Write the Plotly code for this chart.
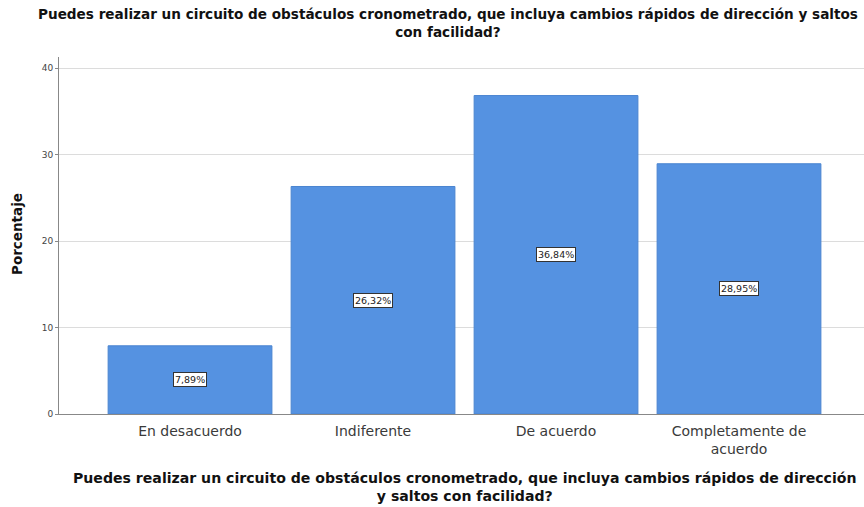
import plotly.graph_objects as go

categories = ["En desacuerdo", "Indiferente", "De acuerdo", "Completamente de<br>acuerdo"]
values = [7.89, 26.32, 36.84, 28.95]
labels = ["7,89%", "26,32%", "36,84%", "28,95%"]
title_text = ("Puedes realizar un circuito de obstáculos cronometrado, que incluya cambios rápidos de dirección y saltos"
              "<br>con facilidad?")
xtitle_text = ("Puedes realizar un circuito de obstáculos cronometrado, que incluya cambios rápidos de dirección"
               "<br>y saltos con facilidad?")
ytitle = "Porcentaje"

FONT = "DejaVu Sans, Verdana, sans-serif"
L, T, B, W, H = 59, 57, 93, 864, 507
PW, PH = W - L, H - T - B


def px_x(p):
    return (p - L) / PW


def px_y(p):
    return (H - B - p) / PH


xs = list(range(len(categories)))

fig = go.Figure()
fig.add_trace(go.Bar(
    x=xs, y=values,
    marker=dict(color="#5592E1", line=dict(color="#4A84D0", width=1)),
    width=0.895,
    hoverinfo="skip",
))

for x, v, t in zip(xs, values, labels):
    fig.add_annotation(
        x=x, y=v / 2, text=t, showarrow=False,
        font=dict(family=FONT, size=9.5, color="#222"),
        bgcolor="white", bordercolor="#333", borderwidth=1, borderpad=1,
    )

fig.add_annotation(
    xref="paper", yref="paper", x=px_x(448), y=px_y(23),
    text="<b>" + title_text + "</b>", showarrow=False,
    xanchor="center", yanchor="middle", align="center",
    font=dict(family=FONT, size=13.6, color="#111"),
)

fig.add_annotation(
    xref="paper", yref="paper", x=px_x(465), y=px_y(487),
    text="<b>" + xtitle_text + "</b>", showarrow=False,
    xanchor="center", yanchor="middle", align="center",
    font=dict(family=FONT, size=14.1, color="#111"),
)

fig.add_annotation(
    xref="paper", yref="paper", x=px_x(17), y=px_y(234),
    text="<b>" + ytitle + "</b>", showarrow=False, textangle=-90,
    xanchor="center", yanchor="middle",
    font=dict(family=FONT, size=13.5, color="#111"),
)

fig.update_layout(
    width=W, height=H,
    margin=dict(l=L, r=0, t=T, b=B),
    paper_bgcolor="white", plot_bgcolor="white",
    showlegend=False,
    font=dict(family=FONT, color="#333"),
)

fig.update_xaxes(
    range=[-0.716, 3.683],
    tickmode="array", tickvals=xs, ticktext=categories,
    tickfont=dict(size=14, color="#3a3a3a"),
    ticklabelstandoff=4,
    showline=True, linecolor="#888", linewidth=1,
    showgrid=False, ticks="", zeroline=False,
)
fig.update_yaxes(
    range=[0, 41.3],
    tickvals=[0, 10, 20, 30, 40],
    tickfont=dict(size=9, color="#444"),
    showline=True, linecolor="#888", linewidth=1,
    showgrid=True, gridcolor="#dcdcdc", gridwidth=1,
    ticks="outside", ticklen=3, tickcolor="#888",
    zeroline=False,
)

fig.write_html("out.html")
